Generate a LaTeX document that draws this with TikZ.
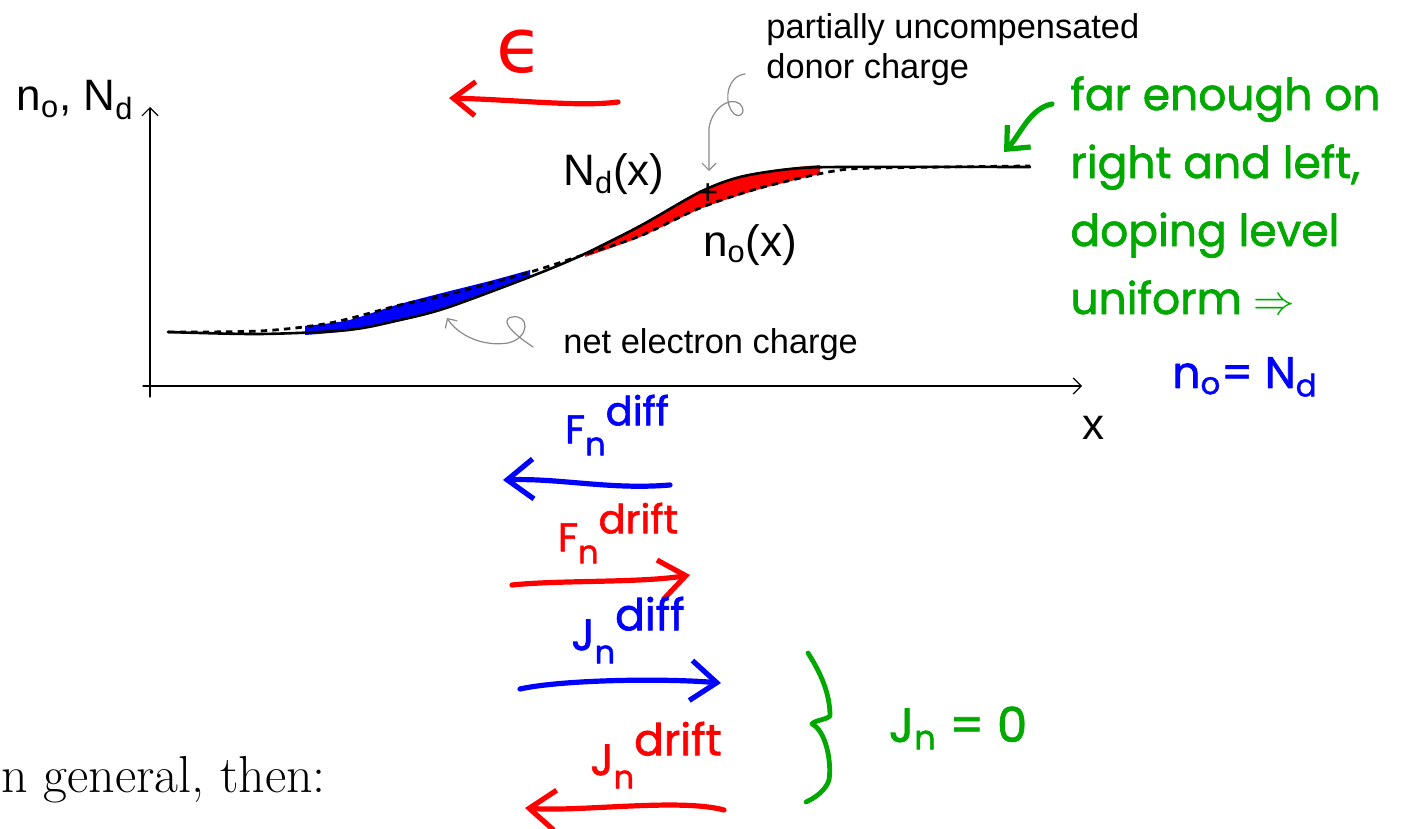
\documentclass[tikz,border=0pt]{standalone}
\usepackage{amsmath}
\usepackage{fontspec}
\newfontfamily\arialfont{Liberation Sans}
\newfontfamily\handfont{Poppins}[FakeBold=1.5]
\newfontfamily\greekfont{DejaVu Sans}
\usetikzlibrary{arrows.meta}
\definecolor{pnRed}{HTML}{FF0000}
\definecolor{pnBlue}{HTML}{0000FF}
\definecolor{pnGreen}{HTML}{00A800}
\definecolor{ptGray}{HTML}{8A8A8A}
\tikzset{
 slide/.style={line cap=round,line join=round},
 axis/.style={draw=black,line width=.6pt,-{Straight Barb[length=4pt,width=8pt]}},
 ndcurve/.style={draw=black,line width=1.3pt},
 nocurve/.style={draw=black,line width=1.4pt,line cap=butt,dash pattern=on 3.2pt off 2.6pt},
 lbl/.style={font=\arialfont\fontsize{22}{24}\selectfont,inner sep=0pt},
 note/.style={font=\arialfont\fontsize{17.2}{20}\selectfont,inner sep=0pt,align=left},
 pointer/.style={draw=ptGray,line width=.6pt,-{Straight Barb[length=3.5pt,width=7pt]}},
 pen/.style={line width=2.6pt,-{Straight Barb[length=13pt,width=20pt]}},
 penline/.style={line width=2.4pt},
 hand/.style={font=\handfont\fontsize{22}{34}\selectfont,inner sep=0pt,align=left},
 plain/.style={font=\fontsize{26}{28}\selectfont,inner sep=0pt}
}
% handwritten current symbol: letter, small n below, word raised
\newcommand{\penlabel}[2]{#1\raisebox{-.3em}{\fontsize{16}{16}\selectfont n}\raisebox{.45em}{#2}}

\begin{document}
\begin{tikzpicture}[slide,x=.5pt,y=-.5pt]
 \useasboundingbox (0,0) rectangle (1402,829);
 % axes
 \coordinate (yfoot) at (150,397); \coordinate (ytip) at (150,107);
 \coordinate (xfoot) at (143,386); \coordinate (xtip) at (1082,386);
 \draw[axis] (yfoot)--(ytip); \draw[axis] (xfoot)--(xtip);
 \node[lbl,anchor=east] (yname) at (134,100) {n$_{\text{o}}$, N$_{\text{d}}$};
 \node[lbl] (xname) at (1093,428) {x};
 % net charge between the two profiles
 \fill[pnBlue] plot[smooth] coordinates {(305,335) (348,331) (400,321) (446,309) (490,293) (530,278)}
  -- plot[smooth] coordinates {(530,270) (490,281) (446,292) (400,304) (375,312) (345,321) (305,326)} -- cycle;
 \fill[pnRed] plot[smooth] coordinates {(585,253) (640,225) (700,191) (740,176) (790,168) (820,165)}
  -- plot[smooth] coordinates {(820,174) (760,189) (700,209) (640,237) (585,257)} -- cycle;
 \draw[nocurve] plot[smooth] coordinates {(168,332) (260,331) (330,323) (400,305) (446,295) (527,273)
  (580,256) (640,236) (700,208) (760,188) (834,171) (880,168) (1030,166)};
 \draw[ndcurve] plot[smooth] coordinates {(168,332) (260,334) (348,330) (400,320) (446,308) (527,278)
  (580,256) (640,226) (700,192) (740,177) (790,169) (840,167) (1030,167)};
 \node[lbl] (ndname) at (614,174) {N$_{\text{d}}$(x)};
 \node[lbl] (noname) at (750,245) {n$_{\text{o}}$(x)};
 \node[lbl,font=\arialfont\fontsize{18}{18}\selectfont] (plus) at (708,194) {+};
 % annotations
 \node[note,anchor=north west] (donor) at (766,13) {partially uncompensated\\donor charge};
 \node[note,anchor=west] (net) at (563,345) {net electron charge};
 \coordinate (donortail) at (745,74); \coordinate (donortip) at (709,171);
 \draw[pointer] (donortail) .. controls (728,76) and (724,98) .. (731,110)
  .. controls (738,122) and (748,112) .. (740,104) .. controls (730,96) and (712,108) .. (709,128) -- (donortip);
 \coordinate (nettail) at (533,347); \coordinate (nettip) at (447,318);
 \draw[pointer] (nettail) .. controls (515,335) and (498,320) .. (512,317)
  .. controls (530,314) and (530,338) .. (508,343) .. controls (482,347) and (458,335) .. (nettip);
 % field
 \node[inner sep=0pt,text=pnRed,font=\greekfont\fontsize{38}{38}\selectfont] (field) at (520,52) {ϵ};
 \coordinate (fieldtail) at (618,102); \coordinate (fieldtip) at (449,98);
 \draw[pen,pnRed,-{Straight Barb[length=11pt,width=17pt]}] (fieldtail) .. controls (580,107) and (520,100) .. (fieldtip);
 % far field remark
 \node[hand,text=pnGreen,anchor=north west] (farnote) at (1070,76) {far enough on\\right and left,\\doping level\\uniform $\Rightarrow$};
 \coordinate (fartail) at (1052,104); \coordinate (fartip) at (1004,152);
 \draw[pen,pnGreen,-{Straight Barb[length=9pt,width=16pt]}] (fartail) .. controls (1030,108) and (1020,135) .. (fartip);
 \node[hand,text=pnBlue] (balance) at (1245,377) {n$_{\text{o}}$= N$_{\text{d}}$};
 % fluxes and currents
 \node[hand,text=pnBlue,font=\handfont\fontsize{20}{20}\selectfont] (fdiff) at (617,425) {\penlabel{F}{diff}};
 \coordinate (fdifftail) at (670,485); \coordinate (fdifftip) at (503,480);
 \draw[pen,pnBlue] (fdifftail) .. controls (610,490) and (560,478) .. (fdifftip);
 \node[hand,text=pnRed,font=\handfont\fontsize{20}{20}\selectfont] (fdrift) at (618,533) {\penlabel{F}{drift}};
 \coordinate (fdrifttail) at (512,585); \coordinate (fdrifttip) at (690,575);
 \draw[pen,pnRed] (fdrifttail) .. controls (560,580) and (640,583) .. (fdrifttip);
 \node[hand,text=pnBlue] (jdiff) at (628,630) {\penlabel{J}{diff}};
 \coordinate (jdifftail) at (520,689); \coordinate (jdifftip) at (721,683);
 \draw[pen,pnBlue] (jdifftail) .. controls (560,680) and (660,678) .. (jdifftip);
 \node[hand,text=pnRed] (jdrift) at (656,755) {\penlabel{J}{drift}};
 \coordinate (jdrifttail) at (724,810); \coordinate (jdrifttip) at (525,808);
 \draw[pen,pnRed] (jdrifttail) .. controls (680,798) and (580,812) .. (jdrifttip);
 % brace and total
 \draw[penline,pnGreen] (808,653) .. controls (822,675) and (830,695) .. (830,716)
  .. controls (826,720) and (815,720) .. (812,724) .. controls (825,730) and (832,760) .. (829,780)
  .. controls (826,790) and (815,798) .. (806,802);
 \node[hand,text=pnGreen,font=\handfont\fontsize{24}{24}\selectfont] (jtotal) at (958,728) {J$_{\text{n}}$ = 0};
 \node[plain,anchor=base west] (general) at (1,792) {n general, then:};
\end{tikzpicture}
\end{document}
